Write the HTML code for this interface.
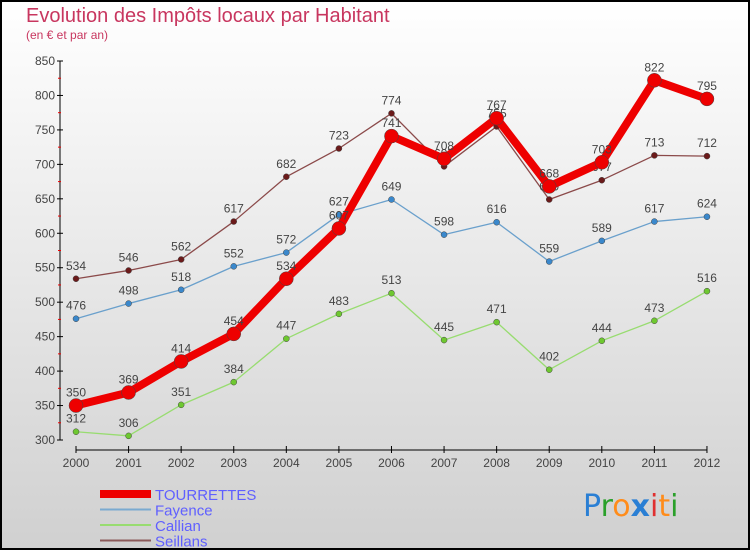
<!DOCTYPE html>
<html><head><meta charset="utf-8"><style>
body{margin:0}
#c{width:750px;height:550px;position:relative;overflow:hidden;font-family:"Liberation Sans",sans-serif}
</style></head><body>
<div id="c">
<svg id="s" width="750" height="550" xmlns="http://www.w3.org/2000/svg" font-family="Liberation Sans, sans-serif">
<defs><linearGradient id="bg" x1="0" y1="0" x2="0" y2="1"><stop offset="0" stop-color="#ffffff"/><stop offset="1" stop-color="#d0d0d0"/></linearGradient></defs>
<rect x="1" y="1" width="748" height="548" fill="url(#bg)" stroke="#000" stroke-width="2"/>
<text x="26" y="22" font-size="20" fill="#c8365f">Evolution des Impôts locaux par Habitant</text>
<text x="26" y="39" font-size="12" fill="#c8365f">(en € et par an)</text>
<g id="axes"></g><g id="series"></g><g id="legend"></g>
<text x="583" y="516" font-size="30" font-family="DejaVu Sans"><tspan fill="#2a7fd4">P</tspan><tspan fill="#2aa02a">r</tspan><tspan fill="#ff8c1a">o</tspan><tspan fill="#2a7fd4" font-weight="bold">x</tspan><tspan fill="#e03030">i</tspan><tspan fill="#ff8c1a">t</tspan><tspan fill="#2aa02a">i</tspan></text>
</svg></div>
<script>
const years=["2000","2001","2002","2003","2004","2005","2006","2007","2008","2009","2010","2011","2012"];
const yTicks=[300,350,400,450,500,550,600,650,700,750,800,850];
const tourrettes=[350,369,414,454,534,607,741,708,767,668,703,822,795];
const fayence=[476,498,518,552,572,627,649,598,616,559,589,617,624];
const callian=[312,306,351,384,447,483,513,445,471,402,444,473,516];
const seillans=[534,546,562,617,682,723,774,697,755,649,677,713,712];
const NS="http://www.w3.org/2000/svg";
function X(i){return 76+i*52.58;}
function Y(v){return 440-(v-300)*(379/550);}
function el(t,a,p){const e=document.createElementNS(NS,t);for(const k in a)e.setAttribute(k,a[k]);p.appendChild(e);return e;}
const ax=document.getElementById('axes');
let l=el('line',{x1:60,y1:Y(850),x2:60,y2:Y(300),stroke:'#000','stroke-width':1},ax);


l=el('line',{x1:X(0),y1:450,x2:X(12),y2:450,stroke:'#000','stroke-width':1},ax);


yTicks.forEach((v,i)=>{
 el('line',{x1:57,y1:Y(v),x2:63,y2:Y(v),stroke:'#000'},ax);
 if(i<yTicks.length-1)el('line',{x1:58,y1:Y(v+25),x2:61,y2:Y(v+25),stroke:'#e00'},ax);
 const t=el('text',{x:55,y:Y(v)+4,'font-size':12,fill:'#444','text-anchor':'end'},ax);t.textContent=v;
 
 
});
years.forEach((y,i)=>{
 el('line',{x1:X(i),y1:446,x2:X(i),y2:453,stroke:'#000'},ax);
 const t=el('text',{x:X(i),y:467,'font-size':12,fill:'#444','text-anchor':'middle'},ax);t.textContent=y;
 
 
});
const sg=document.getElementById('series');
function draw(name,data,color,w,r,dot,labels){
 const g=el('g',{},sg);
 
 
 el('polyline',{points:data.map((v,i)=>X(i)+','+Y(v)).join(' '),fill:'none',stroke:color,'stroke-width':w,'stroke-linejoin':'round'},g);
 data.forEach((v,i)=>{
  const c=el('circle',{cx:X(i),cy:Y(v),r:r,fill:dot,stroke:'#444','stroke-width':0.5},g);
  
  
  if(labels){const t=el('text',{x:X(i),y:Y(v)-9,'font-size':12,fill:'#444','text-anchor':'middle'},g);t.textContent=v;}
 });
}
draw('seillans',seillans,'#8b4a4a',1.3,3,'#6b1a1a',true);
draw('fayence',fayence,'#6aa0cc',1.3,3,'#3a88cc',true);
draw('callian',callian,'#98dc70',1.3,3,'#6ec830',true);
draw('tourrettes',tourrettes,'#ee0000',8,7,'#ee0000',true);
const lg=document.getElementById('legend');
[["TOURRETTES","#ee0000",8],["Fayence","#7aaad0",2],["Callian","#98dc70",2],["Seillans","#8b5a5a",2]].forEach((d,i)=>{
 const y=494+i*15.5;
 const g=el('g',{},lg);
 
 
 el('line',{x1:100,y1:y,x2:151,y2:y,stroke:d[1],'stroke-width':d[2]},g);
 const t=el('text',{x:155,y:y+6,'font-size':15,fill:'#6060ff'},g);t.textContent=d[0];
});
</script>
</body></html>
